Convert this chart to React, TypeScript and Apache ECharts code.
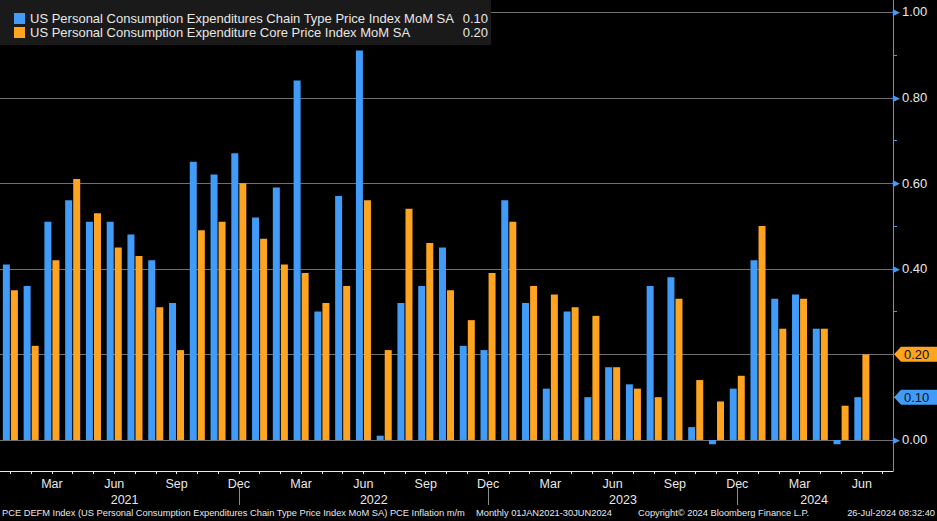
import React, { useEffect, useRef } from 'react';
import * as echarts from 'echarts';

const MONTHS = ['Jan', 'Feb', 'Mar', 'Apr', 'May', 'Jun', 'Jul', 'Aug', 'Sep', 'Oct', 'Nov', 'Dec'];
const YEARS = [2021, 2022, 2023, 2024];
// Jan 2021 .. Jul 2024 (Jul 2024 has no data yet)
const categories: string[] = [];
YEARS.forEach((y) => MONTHS.forEach((m, i) => { if (y < 2024 || i <= 6) categories.push(`${m} ${y}`); }));

const headlineName = 'US Personal Consumption Expenditures Chain Type Price Index MoM SA';
const coreName = 'US Personal Consumption Expenditure Core Price Index MoM SA';

const headline = [
  0.41, 0.36, 0.51, 0.56, 0.51, 0.51, 0.48, 0.42, 0.32, 0.65, 0.62, 0.67,
  0.52, 0.59, 0.84, 0.30, 0.57, 0.91, 0.01, 0.32, 0.36, 0.45, 0.22, 0.21,
  0.56, 0.32, 0.12, 0.30, 0.10, 0.17, 0.13, 0.36, 0.38, 0.03, -0.01, 0.12,
  0.42, 0.33, 0.34, 0.26, -0.01, 0.10,
];
const core = [
  0.35, 0.22, 0.42, 0.61, 0.53, 0.45, 0.43, 0.31, 0.21, 0.49, 0.51, 0.60,
  0.47, 0.41, 0.39, 0.32, 0.36, 0.56, 0.21, 0.54, 0.46, 0.35, 0.28, 0.39,
  0.51, 0.36, 0.34, 0.31, 0.29, 0.17, 0.12, 0.10, 0.33, 0.14, 0.09, 0.15,
  0.50, 0.26, 0.33, 0.26, 0.08, 0.20,
];

const yGridValues = [0, 0.2, 0.4, 0.6, 0.8, 1.0];
const yMinorTicks = [0.1, 0.3, 0.5, 0.7, 0.9];
const yearLabels = ['2021', '2022', '2023', '2024'];
const yearLabelPos = [5.5, 17.5, 29.5, 38.7];
const yearSeparators = [11, 23, 35];

const footerLeft = 'PCE DEFM Index (US Personal Consumption Expenditures Chain Type Price Index MoM SA) PCE Inflation m/m';
const footerMid = 'Monthly 01JAN2021-30JUN2024';
const footerCopy = 'Copyright\u00A9 2024 Bloomberg Finance L.P.';
const footerDate = '26-Jul-2024 08:32:40';

const BLUE = '#409cf8';
const ORANGE = '#fea420';
const TEXT = '#e8e8e8';
const GRID = '#707070';
const FONT = 'Liberation Sans, Arial, sans-serif';

export default function App() {
  const ref = useRef<HTMLDivElement>(null);
  useEffect(() => {
    const chart = echarts.init(ref.current!, null, { renderer: 'svg' });
    const lastHead = headline[headline.length - 1];
    const lastCore = core[core.length - 1];
    // axis labels hidden where the last-value tags sit
    const yLabelValues = yGridValues.filter(
      (v) => Math.abs(v - lastHead) > 0.04 && Math.abs(v - lastCore) > 0.04
    );
    const option: any = {
      animation: false,
      backgroundColor: '#000',
      textStyle: { fontFamily: FONT },
      grid: { left: -2, right: 44, top: 0, bottom: 50, containLabel: false },
      legend: {
        orient: 'vertical', left: 9, top: 7, itemWidth: 11, itemHeight: 11, itemGap: 1,
        icon: 'rect', z: 20, selectedMode: false,
        data: [headlineName, coreName],
        formatter: (name: string) => `{n|${name}}{v|${(name === headlineName ? lastHead : lastCore).toFixed(2)}}`,
        textStyle: {
          color: TEXT, fontSize: 13, fontFamily: FONT,
          rich: {
            n: { width: 430, fontSize: 13, lineHeight: 16, color: TEXT, fontFamily: FONT },
            v: { width: 28, align: 'right', fontSize: 13, lineHeight: 16, color: TEXT, fontFamily: FONT },
          },
        },
      },
      xAxis: [
        {
          type: 'category', data: categories, boundaryGap: true,
          axisLine: { show: true, onZero: false, lineStyle: { color: TEXT, width: 1 } },
          axisTick: { show: true, alignWithLabel: true, interval: 0, length: 3, lineStyle: { color: TEXT } },
          axisLabel: {
            interval: (i: number) => i % 3 === 2,
            formatter: (v: string) => v.split(' ')[0],
            color: TEXT, fontSize: 12.5, margin: 6, fontFamily: FONT,
          },
          splitLine: { show: false },
        },
        {
          type: 'value', min: -0.5, max: 42.5, position: 'bottom', offset: 17,
          axisLine: { show: false, onZero: false },
          axisTick: { show: true, customValues: yearSeparators, length: 17, lineStyle: { color: '#8c8c8c' } },
          axisLabel: {
            customValues: yearLabelPos, margin: 5, color: TEXT, fontSize: 12.5, fontFamily: FONT,
            formatter: (v: number) => {
              const i = yearLabelPos.findIndex((p) => Math.abs(p - v) < 1e-6);
              return i >= 0 ? yearLabels[i] : '';
            },
          },
          splitLine: { show: false },
        },
      ],
      yAxis: {
        type: 'value', position: 'right', min: -0.0725, max: 1.028,
        axisLine: { show: true, onZero: false, lineStyle: { color: BLUE, width: 1 } },
        axisTick: { show: true, customValues: yMinorTicks, length: 4, lineStyle: { color: BLUE } },
        splitLine: { show: false },
        axisLabel: {
          customValues: yLabelValues, margin: 0,
          formatter: (v: number) => `{t|\u25B6}{v|${v.toFixed(2)}}`,
          rich: {
            t: { color: BLUE, fontSize: 9, fontFamily: 'DejaVu Sans', padding: [0, 2, 0, 0] },
            v: { color: TEXT, fontSize: 13, fontFamily: FONT },
          },
        },
      },
      series: [
        {
          name: headlineName, type: 'bar', data: headline, barWidth: 7, barGap: '15%',
          itemStyle: { color: BLUE }, z: 2,
        },
        {
          name: coreName, type: 'bar', data: core, barWidth: 7, barGap: '15%',
          itemStyle: { color: ORANGE }, z: 2,
        },
      ],
    };
    chart.setOption(option);

    const yCore = chart.convertToPixel({ yAxisIndex: 0 }, lastCore) as number;
    const yHead = chart.convertToPixel({ yAxisIndex: 0 }, lastHead) as number;
    const xLeft = chart.convertToPixel({ xAxisIndex: 1 }, -0.5) as number;
    const xRight = chart.convertToPixel({ xAxisIndex: 1 }, 42.5) as number;
    const gridLines = yGridValues.map((v) => {
      const y = Math.round(chart.convertToPixel({ yAxisIndex: 0 }, v) as number) + 0.5;
      return {
        type: 'line', z: 0, silent: true,
        shape: { x1: Math.max(0, xLeft), y1: y, x2: xRight, y2: y },
        style: { stroke: GRID, lineWidth: 1 },
      };
    });
    const tag = (y: number, color: string, text: string) => ({
      type: 'group', x: xRight + 1, y, z: 30,
      children: [
        { type: 'polygon', shape: { points: [[0, 0], [7, -7.5], [46, -7.5], [46, 7.5], [7, 7.5]] }, style: { fill: color }, z: 30 },
        { type: 'text', x: 10, y: 0, z: 31, style: { text, fill: '#111', fontSize: 13, fontFamily: FONT, verticalAlign: 'middle', align: 'left' } },
      ],
    });
    const footerY = 513;
    const ftext = (x: number, text: string, align = 'left') => ({
      type: 'text', x, y: footerY, z: 30,
      style: { text, fill: TEXT, fontSize: 9.3, fontFamily: FONT, verticalAlign: 'middle', align },
    });
    chart.setOption({
      graphic: [
        ...gridLines,
        { type: 'rect', shape: { x: 0, y: 0, width: 491, height: 45 }, style: { fill: '#1a1a1a' }, z: 10 },
        tag(yCore, ORANGE, lastCore.toFixed(2)),
        tag(yHead, BLUE, lastHead.toFixed(2)),
        ftext(2, footerLeft),
        ftext(476, footerMid),
        ftext(638, footerCopy),
        ftext(935, footerDate, 'right'),
      ],
    });
    return () => chart.dispose();
  }, []);
  return <div ref={ref} style={{ position: 'fixed', left: 0, top: 0, width: 937, height: 521, background: '#000' }} />;
}
